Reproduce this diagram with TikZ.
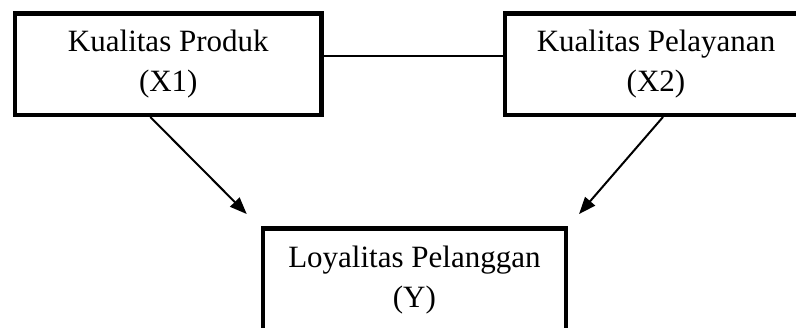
\documentclass[tikz,border=0pt]{standalone}
\usepackage{fontspec}
\setmainfont{Liberation Serif}
\usetikzlibrary{arrows.meta}
\begin{document}
\begin{tikzpicture}[x=1pt,y=-1pt,
  varbox/.style={draw, line width=4.5pt, rectangle, inner sep=0pt, align=center,
    font=\fontsize{31}{40}\selectfont, minimum height=101.5pt},
  link/.style={line width=1.2pt},
  effect/.style={line width=2pt, -{Triangle[length=17pt,width=13pt]}}]
\useasboundingbox (0,0) rectangle (796,327);
\clip (0,0) rectangle (796,327);

% variables
\node[varbox, minimum width=306.7pt] (kp) at (168.3,64) {Kualitas Produk\\(X1)};
\node[varbox, minimum width=302pt]   (kl) at (656,64)   {Kualitas Pelayanan\\(X2)};
\node[varbox, minimum width=302.8pt, minimum height=104pt] (ly) at (414.4,280.3) {Loyalitas Pelanggan\\(Y)};

% correlation between the two independent variables
\draw[link] ([yshift=8pt]kp.east) -- ([yshift=8pt]kp.east -| kl.west);

% effects on the dependent variable
\draw[effect] ([xshift=-18pt]kp.south) -- ([xshift=-14pt,yshift=12pt]ly.north west);
\draw[effect] ([xshift=7pt]kl.south) -- ([xshift=11pt,yshift=12pt]ly.north east);
\end{tikzpicture}
\end{document}
